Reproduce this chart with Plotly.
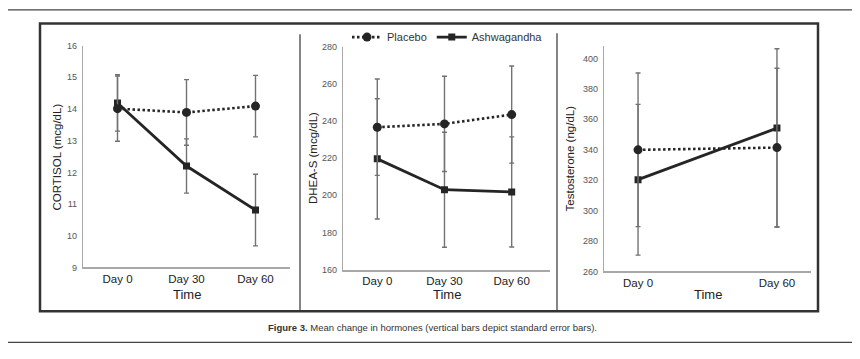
import plotly.graph_objects as go

W, H = 860, 359

DAYS = ["Day 0", "Day 30", "Day 60"]

# Cortisol (mcg/dL)
cort_days = ["Day 0", "Day 30", "Day 60"]
cort_placebo = [14.01, 13.89, 14.09]
cort_placebo_err = [1.03, 1.035, 0.97]
cort_ashwa = [14.19, 12.20, 10.81]
cort_ashwa_err = [0.89, 0.855, 1.13]

# DHEA-S (mcg/dL)
dhea_days = ["Day 0", "Day 30", "Day 60"]
dhea_placebo = [236.6, 238.4, 243.4]
dhea_placebo_err = [25.9, 25.6, 26.1]
dhea_ashwa = [219.6, 203.0, 201.8]
dhea_ashwa_err = [32.3, 30.9, 29.6]

# Testosterone (ng/dL)
test_days = ["Day 0", "Day 60"]
test_placebo = [339.9, 341.4]
test_placebo_err = [50.5, 52.2]
test_ashwa = [320.3, 354.2]
test_ashwa_err_plus = [49.5, 52.2]
test_ashwa_err_minus = [49.6, 65.0]

LINE = "#252525"
ERR = "#727272"
AX = "#a8a8a8"
FONT = "Liberation Sans, Arial, Helvetica, sans-serif"


def px_x(x):
    return x / W


def px_y(y):
    return 1 - y / H


fig = go.Figure()

panels = [
    dict(days=cort_days, pl=cort_placebo, ple=cort_placebo_err, pl_m=cort_placebo_err,
         ash=cort_ashwa, ashe=cort_ashwa_err, ash_m=cort_ashwa_err,
         xa="x", ya="y"),
    dict(days=dhea_days, pl=dhea_placebo, ple=dhea_placebo_err, pl_m=dhea_placebo_err,
         ash=dhea_ashwa, ashe=dhea_ashwa_err, ash_m=dhea_ashwa_err,
         xa="x2", ya="y2"),
    dict(days=test_days, pl=test_placebo, ple=test_placebo_err, pl_m=test_placebo_err,
         ash=test_ashwa, ashe=test_ashwa_err_plus, ash_m=test_ashwa_err_minus,
         xa="x3", ya="y3"),
]

for i, p in enumerate(panels):
    xs = [DAYS.index(d) for d in p["days"]]
    fig.add_trace(go.Scatter(
        x=xs, y=p["ash"], xaxis=p["xa"], yaxis=p["ya"],
        mode="lines+markers", name="Ashwagandha", legendrank=2,
        showlegend=(i == 1),
        line=dict(color=LINE, width=2.8),
        marker=dict(symbol="square", size=7, color=LINE),
        error_y=dict(type="data", array=p["ashe"], arrayminus=p["ash_m"],
                     color=ERR, thickness=1.4, width=2.5),
    ))
    fig.add_trace(go.Scatter(
        x=xs, y=p["pl"], xaxis=p["xa"], yaxis=p["ya"],
        mode="lines+markers", name="Placebo", legendrank=1,
        showlegend=(i == 1),
        line=dict(color=LINE, width=2.6, dash="2.5px,2.5px"),
        marker=dict(symbol="circle", size=9, color=LINE),
        error_y=dict(type="data", array=p["ple"], arrayminus=p["pl_m"],
                     color=ERR, thickness=1.4, width=2.5),
    ))

xdoms = [(83, 290), (343, 550), (604, 811)]
xranges = [(-0.5, 2.5), (-0.51, 2.57), (-0.49, 2.49)]
ydoms = [(270, 41.7), (272.3, 42.7), (274, 41.7)]
yranges = [(9, 16), (160, 280), (260, 408.5)]
ytickvals = [list(range(9, 17)), list(range(160, 281, 20)), list(range(260, 401, 20))]
xtickvals = [[DAYS.index(d) for d in cort_days], [DAYS.index(d) for d in dhea_days],
             [DAYS.index(d) for d in test_days]]
xticktext = [cort_days, dhea_days, test_days]

for i in range(3):
    sfx = "" if i == 0 else str(i + 1)
    fig.layout["xaxis" + sfx] = dict(
        domain=[px_x(xdoms[i][0]), px_x(xdoms[i][1])],
        range=list(xranges[i]), anchor="y" + sfx,
        tickmode="array", tickvals=xtickvals[i], ticktext=xticktext[i],
        showline=True, linecolor=AX, linewidth=1.5, showgrid=False, zeroline=False,
        ticks="", tickfont=dict(size=11.5, color="#222", family=FONT),
    )
    fig.layout["yaxis" + sfx] = dict(
        domain=[px_y(ydoms[i][0]), px_y(ydoms[i][1])],
        range=list(yranges[i]), anchor="x" + sfx,
        tickmode="array", tickvals=ytickvals[i],
        showline=True, linecolor=AX, linewidth=1.2, showgrid=False, zeroline=False,
        ticks="", ticklabelstandoff=3, tickfont=dict(size=9, color="#555", family=FONT),
    )

ytitles = ["CORTISOL (mcg/dL)", "DHEA-S (mcg/dL)", "Testosterone (ng/dL)"]
ytitle_x = [57, 313, 570]
annotations = []
for i in range(3):
    yc = (ydoms[i][0] + ydoms[i][1]) / 2
    annotations.append(dict(
        text=ytitles[i], xref="paper", yref="paper", x=px_x(ytitle_x[i]), y=px_y(yc),
        xanchor="center", yanchor="middle", textangle=-90, showarrow=False,
        font=dict(size=11.5, color="#222", family=FONT),
    ))
    annotations.append(dict(
        text="Time", xref="paper", yref="paper",
        x=px_x((xdoms[i][0] + xdoms[i][1]) / 2), y=px_y(298),
        xanchor="center", yanchor="middle", showarrow=False,
        font=dict(size=13, color="#222", family=FONT),
    ))
annotations.append(dict(
    text="<b>Figure 3.</b> Mean change in hormones (vertical bars depict standard error bars).",
    xref="paper", yref="paper", x=px_x(432), y=px_y(332), xanchor="center", yanchor="middle",
    showarrow=False, font=dict(size=9.5, color="#333", family=FONT),
))

shapes = [
    dict(type="rect", xref="paper", yref="paper", x0=px_x(40), x1=px_x(818),
         y0=px_y(315), y1=px_y(19), line=dict(color="#333", width=2.5)),
    dict(type="line", xref="paper", yref="paper", x0=px_x(300), x1=px_x(300),
         y0=px_y(315), y1=px_y(30), line=dict(color="#333", width=1.2)),
    dict(type="line", xref="paper", yref="paper", x0=px_x(557), x1=px_x(557),
         y0=px_y(315), y1=px_y(29), line=dict(color="#333", width=1.2)),
    dict(type="line", xref="paper", yref="paper", x0=px_x(8), x1=px_x(852),
         y0=px_y(5), y1=px_y(5), line=dict(color="#444", width=1.3)),
    dict(type="line", xref="paper", yref="paper", x0=px_x(8), x1=px_x(852),
         y0=px_y(347), y1=px_y(347), line=dict(color="#444", width=1.3)),
]

fig.update_layout(
    width=W, height=H, margin=dict(l=0, r=0, t=0, b=0),
    paper_bgcolor="white", plot_bgcolor="white",
    font=dict(family=FONT, color="#222"),
    annotations=annotations, shapes=shapes,
    legend=dict(orientation="h", x=px_x(347), y=px_y(33), xanchor="left", yanchor="middle",
                font=dict(size=11, color="#333", family=FONT), bgcolor="rgba(0,0,0,0)",
                traceorder="normal", itemwidth=30, tracegroupgap=0),
    showlegend=True,
)

fig.write_html(
    "out.html",
    config={"displayModeBar": False},
    post_script="document.body.style.margin='0';document.body.style.overflow='hidden';",
)
